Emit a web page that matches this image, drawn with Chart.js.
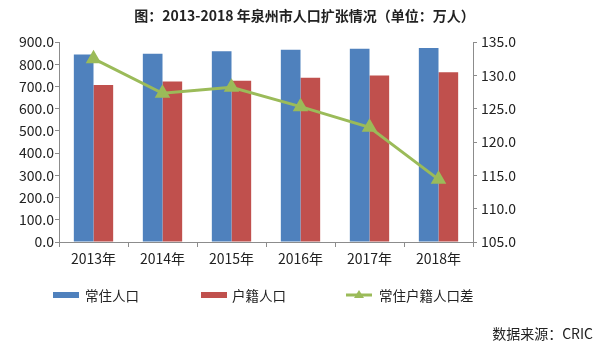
<!DOCTYPE html>
<html>
<head>
<meta charset="utf-8">
<script src="https://cdn.jsdelivr.net/npm/chart.js@4"></script>
<style>
  html, body { margin: 0; padding: 0; background: #fff; }
  body { width: 609px; height: 348px; position: relative; overflow: hidden;
         font-family: "Noto Sans CJK SC", "Noto Sans", sans-serif; color: #222; }
  #wrap { position: absolute; left: 0; top: 0; width: 609px; height: 348px; }
  .title { position: absolute; left: 0; width: 609px; top: 5px; text-align: center;
           font-size: 14px; font-weight: bold; line-height: 20px; }
  .source { position: absolute; right: 16px; top: 323px; font-size: 14px; line-height: 20px; }
  .lg { position: absolute; top: 285px; height: 20px; line-height: 20px; font-size: 13.5px; }
  .sw { position: absolute; top: 292px; height: 6px; width: 26px; }
</style>
</head>
<body>
<div id="wrap"><canvas id="chart" width="609" height="348"></canvas></div>
<div class="title">图：2013-2018 年泉州市人口扩张情况（单位：万人）</div>
<div id="legend"></div>
<div class="source">数据来源：CRIC</div>
<script>
const years = ['2013年', '2014年', '2015年', '2016年', '2017年', '2018年'];
const resident = [844, 847, 858, 865, 870, 873];      // 常住人口
const registered = [707, 722, 726, 739, 749, 764];    // 户籍人口
const gap = [132.5, 127.3, 128.2, 125.3, 122.2, 114.4]; // 常住户籍人口差

const BLUE = '#4F81BD';
const RED = '#C0504D';
const GREEN = '#9BBB59';
const AXIS = '#8c8c8c';
const FONT = '"Noto Sans CJK SC", "Noto Sans", sans-serif';

new Chart(document.getElementById('chart'), {
  type: 'bar',
  data: {
    labels: years,
    datasets: [
      {
        label: '常住人口',
        data: resident,
        backgroundColor: BLUE,
        categoryPercentage: 0.57,
        barPercentage: 1.0,
        order: 1
      },
      {
        label: '户籍人口',
        data: registered,
        backgroundColor: RED,
        categoryPercentage: 0.57,
        barPercentage: 1.0,
        order: 1
      },
      {
        type: 'line',
        label: '常住户籍人口差',
        data: gap,
        yAxisID: 'y1',
        borderColor: GREEN,
        backgroundColor: GREEN,
        borderWidth: 3,
        pointStyle: 'triangle',
        pointRadius: 6,
        pointBackgroundColor: GREEN,
        pointBorderColor: GREEN,
        tension: 0,
        order: 0
      }
    ]
  },
  options: {
    responsive: false,
    animation: false,
    layout: { padding: { top: 42, left: 0, right: 0, bottom: 76 } },
    plugins: {
      legend: { display: false },
      tooltip: { enabled: false }
    },
    scales: {
      x: {
        grid: { offset: true, drawOnChartArea: false, drawTicks: true, tickLength: 5, color: AXIS },
        border: { color: AXIS },
        ticks: { color: '#222', font: { family: FONT, size: 14 }, padding: 3 },
        afterFit: s => { s.height = 30; }
      },
      y: {
        min: 0, max: 900,
        ticks: {
          stepSize: 100, color: '#222', padding: 1,
          font: { family: FONT, size: 14 },
          callback: v => v.toFixed(1)
        },
        grid: { drawOnChartArea: false, tickLength: 4, color: AXIS },
        border: { color: AXIS },
        afterFit: s => { s.width = 59; }
      },
      y1: {
        position: 'right',
        min: 105, max: 135,
        ticks: {
          stepSize: 5, color: '#222', padding: 4,
          font: { family: FONT, size: 14 },
          callback: v => v.toFixed(1)
        },
        grid: { drawOnChartArea: false, tickLength: 4, color: AXIS },
        border: { color: AXIS },
        afterFit: s => { s.width = 136; }
      }
    }
  }
});

// legend
const legendItems = [
  { text: '常住人口', color: BLUE, x: 53, tx: 85, kind: 'box' },
  { text: '户籍人口', color: RED, x: 201, tx: 232, kind: 'box' },
  { text: '常住户籍人口差', color: GREEN, x: 346, tx: 379, kind: 'line' }
];
const legend = document.getElementById('legend');
legendItems.forEach(item => {
  if (item.kind === 'box') {
    const sw = document.createElement('div');
    sw.className = 'sw';
    sw.style.left = item.x + 'px';
    sw.style.background = item.color;
    legend.appendChild(sw);
  } else {
    const ns = 'http://www.w3.org/2000/svg';
    const svg = document.createElementNS(ns, 'svg');
    svg.setAttribute('width', '28');
    svg.setAttribute('height', '14');
    svg.style.position = 'absolute';
    svg.style.left = item.x + 'px';
    svg.style.top = '288px';
    svg.innerHTML =
      '<line x1="0" y1="7" x2="26" y2="7" stroke="' + item.color + '" stroke-width="3"/>' +
      '<polygon points="13,2 18,10 8,10" fill="' + item.color + '"/>';
    legend.appendChild(svg);
  }
  const t = document.createElement('div');
  t.className = 'lg';
  t.style.left = item.tx + 'px';
  t.textContent = item.text;
  legend.appendChild(t);
});
</script>
</body>
</html>
